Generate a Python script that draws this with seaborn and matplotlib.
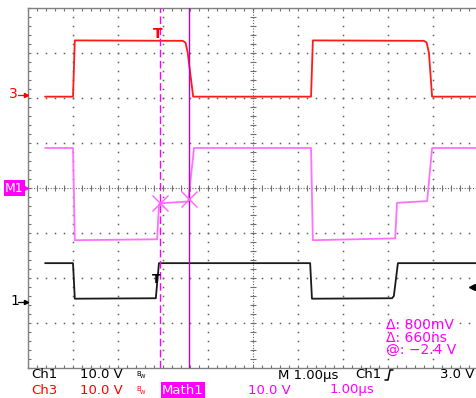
import numpy as np
import pandas as pd
import matplotlib
matplotlib.use("Agg")
import matplotlib.pyplot as plt
import seaborn as sns
from matplotlib.lines import Line2D

# ---------------- data (time in µs, voltages in V) ----------------
ch3_t = [0.38, 1.00, 1.04, 3.44, 3.50, 3.55, 3.67, 6.29, 6.33, 8.80, 8.86, 8.91, 8.98, 10.0]
ch3_v = [0.3, 0.3, 12.8, 12.7, 12.3, 10.0, 0.3, 0.3, 12.8, 12.7, 12.3, 10.0, 0.3, 0.3]

math_t = [0.38, 1.00, 1.04, 2.87, 2.91, 2.95, 3.56, 3.69, 6.29, 6.33, 8.16, 8.20, 8.87, 8.98, 10.0]
math_v = [8.9, 8.9, -11.6, -11.4, -3.7, -3.4, -3.0, 8.9, 8.9, -11.6, -11.2, -3.3, -2.9, 8.9, 8.9]

ch1_t = [0.38, 1.00, 1.04, 2.84, 2.91, 6.27, 6.31, 8.09, 8.13, 8.22, 10.0]
ch1_v = [8.3, 8.3, 0.4, 0.5, 8.3, 8.3, 0.4, 0.5, 1.0, 8.3, 8.3]

volts_per_div = 10.0
ch3_offset_div = 2.0
ch1_offset_div = -2.5
math_offset_div = 0.0

cursor_t = [2.93, 3.58]
cursor_v = [-3.3, -2.4]
trigger_t = 2.88
trigger_level = 3.0

readout = ["\u0394: 800mV", "\u0394: 660ns", "@: \u22122.4 V"]

# ---------------- style ----------------
sns.set_style("white")
plt.rcParams["font.family"] = ["DejaVu Sans"]
plt.rcParams["lines.scale_dashes"] = False

W, H = 477, 398
fig = plt.figure(figsize=(W / 100, H / 100), dpi=100)
fig.patch.set_facecolor("white")
ax = fig.add_axes([28 / W, 30 / H, 450 / W, 360 / H])
ax.set_facecolor("white")

def fx(px):
    return px / W

def fy(py):
    return 1 - py / H

# ---------------- graticule ----------------
xmin = np.arange(0, 10.001, 0.2)
ymin = np.arange(-4, 4.001, 0.2)
gx, gy = [], []
for xv in range(1, 10):
    if xv == 5:
        continue
    gx += [xv] * len(ymin)
    gy += list(ymin)
for yv in range(-3, 4):
    if yv == 0:
        continue
    gx += list(xmin)
    gy += [yv] * len(xmin)
ax.plot(gx, gy, ls="none", marker="s", ms=1.1, mew=0, color="#606060", zorder=1)

# center crosshair
ax.axhline(0, color="#606060", lw=0.8, ls=(0, (0.8, 1.2)), zorder=1)
ax.axvline(5, color="#606060", lw=0.8, ls=(0, (0.8, 1.2)), zorder=1)
ax.plot(xmin, np.zeros_like(xmin), ls="none", marker="|", ms=4, mew=0.8, color="#707070", zorder=1)
ax.plot(np.full_like(ymin, 5.0), ymin, ls="none", marker="_", ms=4, mew=0.8, color="#707070", zorder=1)

ax.set_xlim(0, 10)
ax.set_ylim(-4, 4)
ax.set_xticks(np.arange(0, 10.01, 1))
ax.set_yticks(np.arange(-4, 4.01, 1))
ax.set_xticks(xmin, minor=True)
ax.set_yticks(ymin, minor=True)
ax.tick_params(which="both", direction="in", length=2.5, width=0.8, color="#707070",
               top=True, bottom=True, left=True, right=False,
               labelbottom=False, labelleft=False)
for s in ["left", "top", "bottom"]:
    ax.spines[s].set_color("#808080")
    ax.spines[s].set_linewidth(1.0)
ax.spines["right"].set_visible(False)

# ---------------- traces ----------------
df = pd.concat([
    pd.DataFrame({"t": ch3_t, "div": np.array(ch3_v) / volts_per_div + ch3_offset_div, "trace": "Ch3"}),
    pd.DataFrame({"t": math_t, "div": np.array(math_v) / volts_per_div + math_offset_div, "trace": "Math1"}),
    pd.DataFrame({"t": ch1_t, "div": np.array(ch1_v) / volts_per_div + ch1_offset_div, "trace": "Ch1"}),
])
palette = {"Ch3": "#ff1a1a", "Math1": "#ff70ff", "Ch1": "#1a1a1a"}
sns.lineplot(data=df, x="t", y="div", hue="trace", palette=palette, sort=False,
             estimator=None, legend=False, linewidth=1.3, ax=ax, zorder=3)
ax.set_xlabel("")
ax.set_ylabel("")

# cursors
ax.axvline(cursor_t[0], color="#ff00ff", lw=1.0, ls=(0, (5.5, 2.5)), zorder=4)
ax.axvline(cursor_t[1], color="#c000c0", lw=1.0, zorder=4)
ax.plot(cursor_t, np.array(cursor_v) / volts_per_div + math_offset_div, ls="none",
        marker="x", ms=11, mew=1.0, color="#ff60ff", zorder=5)

# trigger markers
ax.text(trigger_t, 3.42, "T", color="#ff0000", fontsize=10, fontweight="bold",
        ha="center", va="center", zorder=6)
ax.text(trigger_t - 0.04, -2.04, "T", color="#000000", fontsize=9, fontweight="bold",
        ha="center", va="center", zorder=6)
ax.plot([9.87], [ch1_offset_div + trigger_level / volts_per_div], ls="none", marker="<",
        ms=5, color="#000000", clip_on=False, zorder=6)

# readouts
for i, s in enumerate(readout):
    fig.text(fx(386), fy(325 + 12.5 * i), s, color="#ff00ff", fontsize=10,
             ha="left", va="center")

# ---------------- left channel labels ----------------
fig.text(fx(9), fy(94), "3", color="#ff0000", fontsize=10, ha="left", va="center")
fig.add_artist(Line2D([fx(18), fx(25)], [fy(95), fy(95)], color="#ff0000", lw=0.9))
fig.add_artist(Line2D([fx(26)], [fy(95)], marker=">", ms=3, color="#ff0000", ls="none"))

fig.text(fx(10), fy(301), "1", color="#000000", fontsize=10, ha="left", va="center")
fig.add_artist(Line2D([fx(18), fx(25)], [fy(302), fy(302)], color="#000000", lw=0.9))
fig.add_artist(Line2D([fx(26)], [fy(302)], marker=">", ms=3, color="#000000", ls="none"))

fig.text(fx(5), fy(188), "M1", color="white", fontsize=9, ha="left", va="center",
         bbox=dict(boxstyle="square,pad=0.1", facecolor="#ff00ff", edgecolor="none"))
fig.add_artist(Line2D([fx(25)], [fy(188)], marker=">", ms=4.5, color="#ff00ff", ls="none"))

# ---------------- bottom status rows ----------------
r1, r2 = 375, 390
fs = 9.5
fig.text(fx(31), fy(r1), "Ch1", color="black", fontsize=fs, va="center")
fig.text(fx(80), fy(r1), "10.0 V", color="black", fontsize=fs, va="center")
fig.text(fx(136), fy(r1 - 1), "B", color="black", fontsize=5, va="center")
fig.text(fx(140), fy(r1 + 2), "W", color="black", fontsize=4, va="center")
fig.text(fx(278), fy(r1), "M 1.00\u00b5s", color="black", fontsize=fs, va="center")
fig.text(fx(355), fy(r1), "Ch1", color="black", fontsize=fs, va="center")
fig.add_artist(Line2D([fx(385), fx(388), fx(390), fx(393)],
                      [fy(380), fy(380), fy(370), fy(370)], color="black", lw=1.1))
fig.text(fx(474), fy(r1), "3.0 V", color="black", fontsize=fs, ha="right", va="center")

fig.text(fx(31), fy(r2), "Ch3", color="#ff0000", fontsize=fs, va="center")
fig.text(fx(80), fy(r2), "10.0 V", color="#ff0000", fontsize=fs, va="center")
fig.text(fx(136), fy(r2 - 1), "B", color="#ff0000", fontsize=5, va="center")
fig.text(fx(140), fy(r2 + 2), "W", color="#ff0000", fontsize=4, va="center")
fig.text(fx(162), fy(r2), "Math1", color="white", fontsize=fs, va="center",
         bbox=dict(boxstyle="square,pad=0.08", facecolor="#ff00ff", edgecolor="none"))
fig.text(fx(248), fy(r2), "10.0 V", color="#ff00ff", fontsize=fs, va="center")
fig.text(fx(330), fy(r2), "1.00\u00b5s", color="#ff00ff", fontsize=fs, va="center")

fig.savefig("out.png", dpi=100, facecolor="white")
